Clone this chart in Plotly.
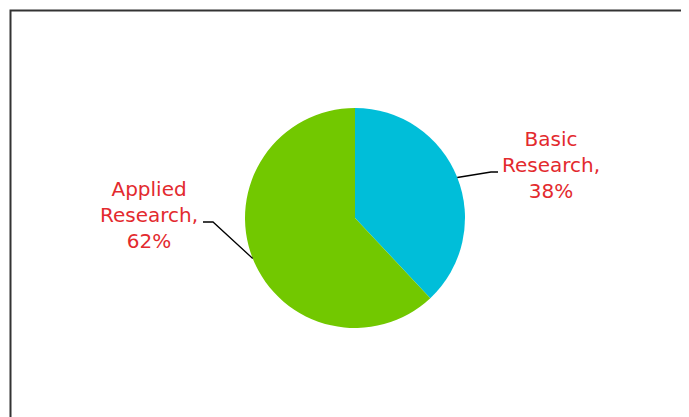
import math
import plotly.graph_objects as go

# ---- data ----
labels = ["Basic Research", "Applied Research"]
shares = [38, 62]
label_lines = [["Basic", "Research,"], ["Applied", "Research,"]]
colors = ["#00BED9", "#72C800"]

# ---- layout constants (window pixels) ----
OFF = 8                      # default page margin of the html body
W, H = 689 - OFF, 417 - OFF  # figure size so that it fills the window
CX, CY, R = 355, 218, 110
label_centers = [(551, 165), (149, 215)]   # text block centres
elbows = [((491, 172), (498, 172)), ((213, 222), (203, 222))]
TEXT_COLOR = "#E32A2E"
FONT = "DejaVu Sans"


def px(x):
    return (x - OFF) / W


def py(y):
    return 1 - (y - OFF) / H


fig = go.Figure(go.Pie(
    labels=labels,
    values=shares,
    marker=dict(colors=colors, line=dict(width=0)),
    sort=False,
    direction="clockwise",
    rotation=0,
    textinfo="none",
    hoverinfo="label+percent",
    showlegend=False,
    domain=dict(x=[px(CX - R), px(CX + R)], y=[py(CY + R), py(CY - R)]),
))

total = sum(shares)
cum = 0
shapes = []
annotations = []
for i, v in enumerate(shares):
    mid = (cum + v / 2) / total * 2 * math.pi
    cum += v
    ex = CX + R * math.sin(mid)
    ey = CY - R * math.cos(mid)
    (bx, by), (hx, hy) = elbows[i]
    path = f"M {px(ex)},{py(ey)} L {px(bx)},{py(by)} L {px(hx)},{py(hy)}"
    shapes.append(dict(type="path", xref="paper", yref="paper", path=path,
                       line=dict(color="#000000", width=1.3)))
    pct = round(v / total * 100)
    text = "<br>".join(label_lines[i] + [f"{pct}%"])
    lx, ly = label_centers[i]
    annotations.append(dict(x=px(lx), y=py(ly), xref="paper", yref="paper",
                            text=text, showarrow=False, xanchor="center",
                            yanchor="middle", align="center",
                            font=dict(family=FONT, size=20, color=TEXT_COLOR)))

# chart frame
shapes.append(dict(type="rect", xref="paper", yref="paper",
                   x0=px(10.5), y0=py(440), x1=px(720), y1=py(10.5),
                   line=dict(color="#333333", width=2), fillcolor="rgba(0,0,0,0)"))

fig.update_layout(
    width=W, height=H,
    margin=dict(l=0, r=0, t=0, b=0),
    paper_bgcolor="white",
    plot_bgcolor="white",
    shapes=shapes,
    annotations=annotations,
)

fig.write_html("out.html")
